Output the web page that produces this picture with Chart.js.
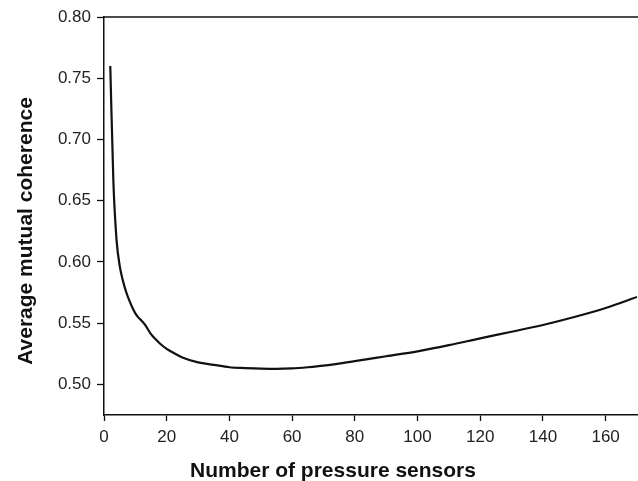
<!DOCTYPE html>
<html lang="en">
<head>
    <meta charset="UTF-8">
    <title>Average mutual coherence</title>
    <script src="https://cdn.jsdelivr.net/npm/chart.js"></script>
    <style>
        html, body { margin: 0; padding: 0; background: #fff; }
        #wrap { width: 638px; height: 481px; }
    </style>
</head>
<body>
    <div id="wrap"><canvas id="coherenceChart"></canvas></div>
    <script>
        // values
        const sensorCounts = [2, 3, 4, 5, 6, 7, 8, 9, 10, 11, 12, 13, 14, 15, 16, 18, 20, 22, 25, 30, 35, 40, 45, 50, 55, 60, 65, 70, 80, 90, 100, 110, 120, 130, 140, 150, 160, 170];
        const coherence = [0.760, 0.665, 0.618, 0.597, 0.585, 0.576, 0.569, 0.563, 0.558, 0.5545, 0.552, 0.549, 0.545, 0.541, 0.538, 0.533, 0.529, 0.526, 0.522, 0.518, 0.516, 0.514, 0.5133, 0.5128, 0.5126, 0.5130, 0.514, 0.5153, 0.519, 0.523, 0.527, 0.532, 0.5376, 0.543, 0.5485, 0.555, 0.5624, 0.5714];
        const xTitle = "Number of pressure sensors";
        const yTitle = "Average mutual coherence";

        const points = sensorCounts.map((x, i) => ({ x: x, y: coherence[i] }));

        // axis titles sit off-centre in the original, so draw them by hand
        const frame = {
            id: "frame",
            afterDraw(chart) {
                const ctx = chart.ctx;
                const area = chart.chartArea;
                ctx.save();
                ctx.strokeStyle = "#111";
                ctx.lineWidth = 1.5;
                ctx.beginPath();
                ctx.moveTo(area.left, area.top);
                ctx.lineTo(area.right + 2, area.top);
                ctx.stroke();

                ctx.fillStyle = "#111";
                ctx.font = "bold 21px 'Liberation Sans', Arial, sans-serif";
                ctx.textAlign = "center";
                ctx.textBaseline = "middle";
                ctx.fillText(xTitle, 333, 471);

                ctx.translate(26, 231);
                ctx.rotate(-Math.PI / 2);
                ctx.fillText(yTitle, 0, 0);
                ctx.restore();
            }
        };

        new Chart(document.getElementById("coherenceChart"), {
            type: "line",
            data: {
                datasets: [{
                    data: points,
                    borderColor: "#111",
                    borderWidth: 2.2,
                    pointRadius: 0,
                    fill: false,
                    cubicInterpolationMode: "monotone",
                }],
            },
            options: {
                responsive: true,
                maintainAspectRatio: false,
                animation: false,
                layout: { padding: { top: 17, right: 1, left: 0, bottom: 0 } },
                plugins: { legend: { display: false }, tooltip: { enabled: false } },
                scales: {
                    x: {
                        type: "linear",
                        min: 0,
                        max: 170,
                        afterFit: s => { s.height = 66; },
                        grid: { drawOnChartArea: false, color: "#111", tickLength: 6, tickWidth: 1.3 },
                        border: { color: "#111", width: 1.5 },
                        ticks: {
                            stepSize: 20,
                            includeBounds: false,
                            padding: 6,
                            color: "#222",
                            font: { family: "'Liberation Sans', Arial, sans-serif", size: 17 },
                        },
                    },
                    y: {
                        min: 0.475,
                        max: 0.80,
                        afterFit: s => { s.width = 104; },
                        grid: { drawOnChartArea: false, color: "#111", tickLength: 7, tickWidth: 1.3 },
                        border: { color: "#111", width: 1.5 },
                        ticks: {
                            stepSize: 0.05,
                            includeBounds: false,
                            padding: 6,
                            color: "#222",
                            font: { family: "'Liberation Sans', Arial, sans-serif", size: 17 },
                            callback: v => v.toFixed(2),
                        },
                    },
                },
            },
            plugins: [frame],
        });
    </script>
</body>
</html>
